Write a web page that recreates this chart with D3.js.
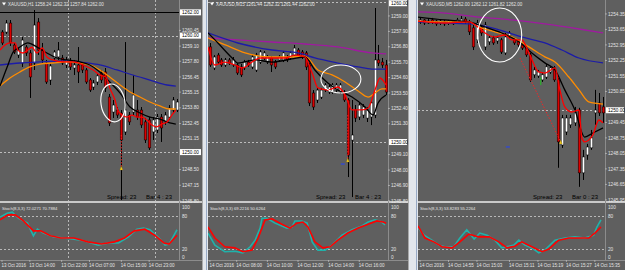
<!DOCTYPE html>
<html><head><meta charset="utf-8">
<script src="https://cdn.jsdelivr.net/npm/d3@7/dist/d3.min.js"></script>
<style>html,body{margin:0;padding:0;background:#5f5f5f;overflow:hidden}</style>
</head><body>
<svg id="c" width="625" height="270"></svg>
<script>
// ---------------- DATA ----------------
const P1_TITLE = "XAUUSD,H1  1258.24 1262.32 1257.84 1262.00";
const P2_TITLE = "XAUUSD,M15  1261.44 1262.32 1261.44 1262.00";
const P3_TITLE = "XAUUSD,M5  1262.00 1262.12 1261.82 1262.00";
const P1_STOCH_TITLE = "Stoch(8,3,3) 72.0271 70.7884";
const P2_STOCH_TITLE = "Stoch(8,3,3) 69.2216 50.6264";
const P3_STOCH_TITLE = "Stoch(8,3,3) 53.8283 55.2264";
const P1_INFO = ["Spread: 23", "Bar 4 : 23"];
const P2_INFO = ["Spread: 23", "Bar 4 : 23"];
const P3_INFO = ["Spread: 23", "Bar 0 : 23"];

const P1_OPEN  = [1260.31,1260.31,1261.08,1259.19,1258.34,1257.65,1259.02,1258.51,1257.65,1261.17,1258.76,1257.65,1256.19,1258.08,1258.17,1258.08,1257.48,1257.74,1257.22,1257.48,1257.48,1257.05,1256.19,1255.59,1256.02,1256.79,1256.88,1254.73,1253.44,1253.61,1253.35,1251.73,1253.18,1253.44,1253.61,1253.61,1252.59,1252.76,1251.73,1251.90,1253.01,1252.59,1253.01,1253.61,1253.61];
const P1_HIGH  = [1260.48,1261.34,1261.34,1259.37,1258.94,1259.88,1259.19,1258.76,1262.20,1261.51,1259.37,1257.91,1257.65,1258.76,1259.45,1258.34,1258.17,1258.08,1257.91,1259.02,1257.74,1257.22,1256.36,1256.19,1256.79,1257.05,1257.22,1254.99,1254.47,1253.87,1253.61,1259.45,1253.44,1256.62,1254.47,1253.87,1252.93,1253.01,1253.01,1253.27,1253.27,1253.44,1254.04,1254.73,1254.56];
const P1_LOW   = [1259.19,1260.14,1259.11,1258.42,1258.08,1257.31,1258.25,1254.65,1257.05,1258.34,1257.65,1255.85,1255.76,1257.74,1257.91,1257.48,1257.22,1257.05,1256.62,1255.93,1256.79,1255.85,1255.16,1255.33,1255.76,1255.93,1255.16,1252.24,1252.93,1252.93,1245.89,1251.47,1252.33,1253.18,1252.76,1252.07,1250.78,1250.18,1251.04,1251.64,1250.87,1252.33,1252.76,1253.35,1253.44];
const P1_CLOSE = [1259.37,1261.08,1259.37,1258.59,1258.76,1259.62,1258.51,1256.45,1260.91,1258.76,1257.91,1256.02,1257.39,1258.59,1258.76,1257.65,1257.91,1257.31,1257.48,1256.88,1257.05,1256.02,1255.33,1255.93,1256.54,1256.19,1255.50,1252.50,1254.04,1253.18,1251.04,1253.61,1252.59,1254.90,1253.01,1252.33,1251.04,1250.36,1252.76,1253.01,1252.07,1253.18,1253.78,1254.47,1254.30];

const P2_OPEN  = [1256.79,1255.29,1256.21,1255.86,1255.50,1255.86,1255.50,1255.50,1255.36,1255.29,1255.71,1255.36,1255.14,1255.71,1256.00,1255.71,1256.00,1255.71,1255.86,1255.86,1256.07,1256.00,1256.21,1256.57,1256.43,1256.36,1255.50,1253.50,1253.00,1253.21,1253.71,1253.57,1253.57,1253.71,1253.57,1253.57,1253.00,1250.14,1252.29,1251.79,1251.93,1251.71,1251.79,1251.93,1255.86,1255.71,1255.50];
const P2_HIGH  = [1257.07,1256.21,1256.36,1256.00,1256.00,1256.00,1256.07,1255.64,1255.57,1255.86,1255.86,1256.21,1256.36,1256.57,1256.50,1256.21,1256.14,1255.86,1256.21,1256.50,1256.21,1256.50,1256.93,1256.71,1256.57,1256.50,1255.64,1253.71,1253.86,1253.86,1254.21,1254.07,1254.21,1254.21,1254.21,1253.71,1253.14,1253.00,1252.64,1252.86,1252.71,1252.50,1253.00,1259.57,1256.93,1256.00,1255.86];
const P2_LOW   = [1255.36,1255.14,1255.57,1255.36,1255.36,1255.50,1255.36,1254.79,1254.64,1255.14,1255.36,1255.21,1255.00,1255.57,1255.86,1255.57,1255.00,1255.21,1255.71,1255.71,1255.71,1255.86,1256.07,1256.07,1255.93,1255.14,1252.57,1252.29,1252.79,1253.07,1253.57,1253.43,1253.43,1253.57,1253.43,1252.86,1247.50,1246.07,1251.43,1251.57,1251.71,1251.43,1251.21,1251.71,1255.43,1255.29,1253.36];
const P2_CLOSE = [1255.50,1256.07,1255.71,1255.50,1255.86,1255.64,1255.86,1254.93,1254.79,1255.71,1255.50,1256.07,1256.21,1256.43,1256.36,1256.07,1255.50,1255.36,1256.07,1256.36,1255.86,1256.36,1256.71,1256.21,1256.07,1255.36,1252.79,1252.50,1253.71,1253.71,1254.07,1253.93,1254.07,1254.07,1254.07,1253.00,1249.07,1250.50,1251.71,1252.64,1252.50,1252.29,1252.79,1255.86,1255.64,1255.50,1253.57];

const P3_OPEN  = [1253.99,1254.08,1253.94,1254.08,1254.03,1253.94,1253.99,1253.94,1254.03,1253.94,1253.99,1254.12,1253.99,1253.72,1253.18,1253.76,1252.86,1253.09,1253.27,1253.13,1253.18,1252.59,1253.36,1253.18,1253.09,1252.95,1252.81,1252.50,1251.60,1251.55,1251.37,1251.50,1251.73,1251.91,1251.37,1248.43,1249.02,1249.34,1249.43,1250.01,1247.17,1247.98,1248.30,1249.88,1250.33,1250.15];
const P3_HIGH  = [1254.17,1254.12,1254.12,1254.17,1254.08,1254.12,1254.08,1254.08,1254.08,1254.17,1254.26,1254.21,1254.08,1253.85,1254.08,1253.85,1253.99,1253.36,1253.36,1253.36,1253.27,1253.49,1253.58,1253.27,1253.18,1253.04,1252.90,1252.59,1251.96,1251.82,1251.68,1252.09,1252.00,1252.00,1251.46,1249.79,1249.79,1249.79,1250.15,1250.11,1248.21,1248.48,1249.11,1250.92,1250.78,1250.60];
const P3_LOW   = [1253.90,1253.85,1253.90,1253.90,1253.81,1253.85,1253.81,1253.85,1253.85,1253.90,1253.94,1253.90,1253.40,1252.72,1253.04,1253.36,1252.72,1252.95,1252.95,1253.00,1252.54,1252.50,1253.27,1252.95,1252.86,1252.72,1252.41,1251.28,1251.46,1251.46,1251.28,1251.41,1251.64,1251.28,1247.40,1248.30,1248.88,1249.20,1249.29,1246.54,1246.85,1247.76,1248.21,1249.34,1249.74,1249.43];
const P3_CLOSE = [1254.08,1253.94,1254.03,1253.99,1253.90,1254.03,1253.90,1254.03,1253.90,1254.08,1254.12,1253.99,1253.54,1252.86,1253.94,1253.49,1253.85,1253.27,1253.04,1253.27,1252.63,1253.31,1253.49,1253.04,1252.95,1252.81,1252.50,1251.37,1251.82,1251.73,1251.60,1251.96,1251.91,1251.37,1248.57,1249.65,1249.65,1249.65,1249.88,1247.17,1247.89,1248.34,1248.75,1250.01,1249.88,1249.88];

// moving averages: [bar index, price]
const P1_MA_RED = [[-0.5,1258.76],[0.76,1259.19],[2,1259.37],[3.3,1259.37],[4,1258.76],[5.3,1258.51],[6.5,1258.76],[7.5,1259.02],[8.8,1258.51],[10.1,1258.94],[11.3,1258.16],[12.8,1257.91],[15.3,1257.74],[17.8,1257.74],[20.4,1257.48],[22.9,1257.05],[24.6,1256.62],[26.1,1256.45],[27.1,1255.50],[28.4,1254.47],[29.1,1253.61],[30.2,1253.18],[31.4,1253.01],[32.7,1253.18],[33.9,1253.01],[35.2,1253.01],[36.4,1252.76],[37.7,1252.33],[38.9,1252.16],[40.2,1252.41],[41.5,1252.59],[42.7,1253.18],[43.7,1253.61]];
const P1_MA_BLACK = [[-0.5,1255.67],[1.3,1257.30],[2.8,1258.59],[4.5,1259.02],[6.5,1259.37],[8.8,1259.02],[11.3,1258.51],[13.8,1258.08],[16.3,1257.91],[19.6,1257.74],[22.1,1257.48],[24.6,1256.88],[27.1,1256.02],[29.7,1255.07],[32.2,1253.87],[34.7,1253.36],[37.2,1253.01],[39.7,1252.84],[42.2,1252.50],[43.7,1252.41]];
const P1_MA_ORANGE = [[-0.5,1255.67],[2,1256.36],[4.5,1256.88],[7,1257.31],[9.55,1257.56],[12.8,1257.65],[16.3,1257.74],[19.6,1257.65],[22.1,1257.48],[24.6,1257.05],[27.1,1256.45],[29.7,1255.76],[32.2,1255.16],[34.7,1254.73],[37.2,1254.30],[39.7,1253.96],[42.2,1253.70],[43.7,1253.70]];
const P1_MA_BLUE = [[-0.5,1257.48],[4.5,1257.65],[9.55,1257.74],[16.3,1257.82],[21.4,1257.65],[24.6,1257.48],[28.9,1257.05],[32.9,1256.62],[37.2,1256.19],[41.5,1255.76],[43.7,1255.67]];

const P2_MA_PURPLE = [[-0.5,1257.43],[7.3,1257.29],[16.2,1257.14],[24.8,1257.00],[33.4,1256.79],[42.3,1256.36],[46,1256.29]];
const P2_MA_BLUE = [[-0.5,1257.79],[7.3,1257.07],[16.2,1256.57],[23,1256.36],[27.4,1256.00],[33.4,1255.64],[38.7,1255.36],[42.3,1255.21],[46,1255.21]];
const P2_MA_ORANGE = [[-0.5,1257.43],[4,1256.93],[9.2,1256.36],[16.2,1256.07],[21.4,1256.07],[24.8,1256.14],[28.2,1255.14],[31.9,1254.79],[35.3,1254.29],[38.7,1253.64],[41.3,1253.21],[43.1,1253.50],[44.9,1253.79],[46,1253.79]];
const P2_MA_BLACK = [[-0.5,1257.79],[2.1,1257.07],[5.8,1256.00],[7.3,1255.64],[11.8,1255.86],[16.2,1255.71],[21.4,1255.93],[24.8,1256.07],[27.4,1255.14],[30.8,1254.21],[33.4,1253.71],[37.1,1253.21],[40.5,1252.50],[42.6,1251.93],[43.9,1252.79],[46,1253.36]];
const P2_MA_RED = [[-0.5,1256.79],[1.3,1255.50],[3.9,1255.71],[6.5,1255.50],[8.6,1255.29],[11,1255.71],[13.1,1256.00],[16.2,1256.00],[19.6,1256.00],[22.2,1256.21],[24.8,1256.07],[26.7,1254.93],[28.2,1253.86],[30.8,1253.71],[33.4,1253.93],[35.3,1253.36],[37.1,1252.29],[39.7,1252.29],[41.3,1252.43],[43.1,1253.71],[44.4,1254.57],[46,1254.07]];

const P3_MA_PURPLE = [[-0.5,1254.44],[6.1,1254.39],[14.5,1254.21],[22.6,1254.08],[30.7,1253.90],[39.1,1253.67],[45,1253.49]];
const P3_MA_BLUE = [[-0.5,1253.99],[6.1,1253.94],[12.8,1253.90],[19.4,1253.63],[25,1253.31],[30.7,1253.04],[34.9,1252.72],[39.1,1252.36],[45,1252.14]];
const P3_MA_ORANGE = [[-0.5,1254.03],[6.1,1253.99],[12,1253.99],[14.5,1253.76],[18.4,1253.54],[22.6,1253.31],[26.8,1252.86],[30.7,1252.41],[33.2,1252.18],[36.6,1251.50],[39.1,1250.92],[41.5,1250.38],[45,1250.28]];
const P3_MA_BLACK = [[-0.5,1254.21],[6.1,1254.08],[12,1253.99],[16,1253.76],[20.1,1253.49],[24.3,1253.09],[27.5,1252.59],[30.7,1252.14],[33.2,1251.82],[35.6,1250.92],[38.1,1250.01],[40.5,1248.79],[42.5,1248.97],[45,1249.20]];
const P3_MA_RED = [[-0.5,1254.03],[6.1,1253.94],[12,1253.99],[14.5,1253.72],[16,1253.49],[18.4,1253.31],[20.9,1253.40],[22.6,1253.18],[25,1253.18],[27,1252.50],[29.2,1251.73],[30.7,1251.68],[33.2,1251.91],[34.4,1250.92],[35.6,1250.15],[37.3,1249.92],[39.1,1250.01],[39.8,1248.75],[40.5,1248.57],[41.5,1248.66],[42.5,1248.88],[44,1249.56],[45,1249.43]];

// stochastic %K (teal) and %D (red): [bar index, value]
const P1_STOCH_K = [[-0.5,78],[1.3,85],[2.6,87],[4.1,76],[6.4,67],[7.9,44],[8.9,56],[10.4,49],[13,42],[15.5,40],[18.1,38],[20.6,35],[24.2,27],[26.7,31],[29.3,31],[31.8,42],[33.9,56],[35.6,58],[37.2,55],[39.5,40],[41,27],[42,29],[44,55]];
const P1_STOCH_D = [[-0.5,73],[1.5,82],[3.3,82],[5.4,71],[7.9,53],[9.7,53],[12.2,44],[14.8,40],[18.1,40],[21.6,33],[25,29],[28.3,33],[30.8,40],[33.3,53],[35.9,56],[38.4,45],[40.7,31],[42,29],[44,45]];
const P2_STOCH_K = [[-0.5,49],[1.3,27],[3.9,15],[6.5,16],[8.6,13],[10.5,24],[11.8,36],[13.1,58],[13.6,76],[14.9,76],[17,67],[20.1,58],[21.4,60],[22.2,71],[24,71],[25.4,67],[26.7,33],[28.2,18],[30.1,18],[31.9,27],[34.5,45],[37.1,55],[39.7,62],[41.3,69],[43.1,73],[44.9,69],[45.7,64]];
const P2_STOCH_D = [[-0.5,60],[1.3,40],[3.9,24],[6.5,22],[8.6,15],[11,18],[12.6,40],[14.4,73],[16.2,75],[18.8,65],[20.9,58],[22.7,67],[24.3,69],[25.6,60],[27.4,33],[29.5,22],[31.4,24],[33.4,36],[36,49],[38.7,58],[41.3,65],[43.6,71],[45.2,69],[46,67]];
const P3_STOCH_K = [[-0.5,58],[1,45],[2.9,36],[4.7,27],[6.1,24],[8.3,24],[9.8,40],[11.5,55],[13.3,38],[14.7,49],[16.5,45],[18.4,36],[20.1,22],[21.9,25],[23.1,27],[24.3,36],[25.8,27],[27.5,22],[29.2,13],[30.7,18],[33.2,36],[35.6,40],[38.1,42],[40.5,40],[42.7,45],[43.5,60],[44.5,73]];
const P3_STOCH_D = [[-0.5,62],[1.2,40],[3.4,33],[5.4,24],[7.9,22],[9.8,33],[12,47],[14.5,42],[17,42],[19.4,33],[21.4,22],[23.3,25],[25,33],[27.5,24],[30,15],[31.7,20],[34.1,36],[36.6,40],[39.1,40],[41.5,40],[43,49],[44.5,60]];

// price axis tick labels (the ones visible)
const P1_TICKS = [1260.45,1259.10,1257.80,1256.45,1255.15,1253.80,1252.45,1251.15,1248.50,1247.15,1245.80];
const P2_TICKS = [1259.00,1257.90,1256.80,1255.70,1254.60,1253.50,1252.40,1251.30,1249.10,1248.00,1246.90,1245.80];
const P3_TICKS = [1254.35,1253.65,1252.95,1252.25,1251.55,1250.85,1249.45,1248.75,1248.05,1247.35,1246.65,1245.95];
const P1_BOXES = [1262.00,1260.00,1250.00];
const P2_BOXES = [1260.00,1250.00];
const P3_BOXES = [1250.00];
const P1_LEVELS = [1260.00,1250.00];
const P2_LEVELS = [1260.00,1250.00];
const P3_LEVELS = [1250.00];
const P1_BID = 1262.00;
const P1_SEPARATORS = [16.5, 38.5];
const STOCH_LEVELS = [80, 20];
const STOCH_LABELS = [100, 80, 20, 0];

// time axis
const P1_DATE_IDX = [0,7,15,22,30,37];
const P1_DATES = ["13 Oct 2016","13 Oct 14:00","13 Oct 22:00","14 Oct 07:00","14 Oct 15:00","14 Oct 23:00"];
const P2_DATE_IDX = [0,7,15,23,31,39];
const P2_DATES = ["14 Oct 2016","14 Oct 08:00","14 Oct 10:00","14 Oct 12:00","14 Oct 14:00","14 Oct 16:00"];
const P3_DATE_IDX = [0,7,14,22,29,36,43];
const P3_DATES = ["14 Oct 2016","14 Oct 14:55","14 Oct 15:03","14 Oct 15:11","14 Oct 15:19","14 Oct 15:27","14 Oct 15:35"];

// annotations
const P1_CIRCLE = [27.9, 1254.22];
const P2_CIRCLE = [34.2, 1254.50];
const P3_CIRCLE = [19.6, 1253.40];
const P1_TRADE = [30, 1251.47, 30, 1248.63];
const P2_TRADE = [36, 1251.93, 36, 1248.71];
const P3_TRADE = [24.6, 1252.36, 34.6, 1248.57];
const P2_DASH = [34.7, 1248.43];
const P3_DASH = [21.6, 1248.34];
const P3_GREEN = [29.7, 1251.50, 1251.14];

// ---------------- DRAW ----------------
const svg = d3.select('#c');
const FONT = "'Liberation Sans', Arial, sans-serif";
const TXT = '#e4e4e4';
svg.append('rect').attr('width',625).attr('height',270).attr('fill','#5f5f5f');
const defs = svg.append('defs');
const MAIN_TOP = 0, MAIN_BOT = 201, ST_TOP = 203, ST_BOT = 260;

function drawPanel(c) {
  const L = c.box;
  const n = c.open.length;
  const x = d3.scaleLinear().domain([-0.5, n - 0.5]).range([L.left, L.right]);
  const y = d3.scaleLinear().domain(c.view).range([MAIN_BOT, MAIN_TOP]);
  const ys = d3.scaleLinear().domain([0, 100]).range([ST_BOT, 205]);
  const g = svg.append('g');
  defs.append('clipPath').attr('id','m'+c.id).append('rect')
    .attr('x',L.left).attr('y',MAIN_TOP).attr('width',L.right-L.left).attr('height',MAIN_BOT-MAIN_TOP);
  defs.append('clipPath').attr('id','s'+c.id).append('rect')
    .attr('x',L.left).attr('y',ST_TOP).attr('width',L.right-L.left).attr('height',ST_BOT-ST_TOP);

  (c.separators||[]).forEach(i => g.append('line')
    .attr('x1',Math.round(x(i))+0.5).attr('x2',Math.round(x(i))+0.5).attr('y1',0).attr('y2',ST_BOT)
    .attr('stroke','#cfcfcf').attr('stroke-width',0.8).attr('stroke-dasharray','2,2'));

  const gm = g.append('g').attr('clip-path',`url(#m${c.id})`);
  const gs = g.append('g').attr('clip-path',`url(#s${c.id})`);

  c.levels.forEach(v => gm.append('line')
    .attr('x1',L.left).attr('x2',L.right).attr('y1',Math.round(y(v))+0.5).attr('y2',Math.round(y(v))+0.5)
    .attr('stroke','#d4d4d4').attr('stroke-width',0.8).attr('stroke-dasharray','2,2'));
  if (c.bid != null) gm.append('line')
    .attr('x1',L.left).attr('x2',L.right).attr('y1',Math.round(y(c.bid))+0.5).attr('y2',Math.round(y(c.bid))+0.5)
    .attr('stroke','#000').attr('stroke-width',1);

  const idx = d3.range(n);
  gm.append('g').selectAll('line').data(idx).join('line')
    .attr('x1',i=>Math.round(x(i))+0.5).attr('x2',i=>Math.round(x(i))+0.5)
    .attr('y1',i=>y(c.high[i])).attr('y2',i=>y(c.low[i]))
    .attr('stroke','#000').attr('stroke-width',1);
  gm.append('g').selectAll('rect').data(idx).join('rect')
    .attr('x',i=>Math.round(x(i))-0.8).attr('width',2.6)
    .attr('y',i=>y(Math.max(c.open[i],c.close[i])))
    .attr('height',i=>Math.max(1, Math.abs(y(c.open[i])-y(c.close[i]))))
    .attr('fill',i=>c.close[i]>=c.open[i] ? '#ffffff' : '#dc0000')
    .attr('stroke','#000').attr('stroke-width',0.5);

  const ln = d3.line().x(d=>x(d[0])).y(d=>y(d[1])).curve(d3.curveMonotoneX);
  c.mas.forEach(m => gm.append('path').attr('d',ln(m.data)).attr('fill','none')
    .attr('stroke',m.color).attr('stroke-width',1.3));

  if (c.green) gm.append('line').attr('x1',x(c.green[0])).attr('x2',x(c.green[0]))
    .attr('y1',y(c.green[1])).attr('y2',y(c.green[2])).attr('stroke','#20c020').attr('stroke-width',1);

  const t = c.trade;
  gm.append('line').attr('x1',x(t[0])).attr('y1',y(t[1])).attr('x2',x(t[2])).attr('y2',y(t[3]))
    .attr('stroke','#ff2020').attr('stroke-width',0.9).attr('stroke-dasharray','1.5,1.5');
  gm.append('path').attr('d',`M${x(t[2])-1.5},${y(t[3])+2}L${x(t[2])+1.5},${y(t[3])+2}L${x(t[2])},${y(t[3])-2}Z`)
    .attr('fill','#f4d020').attr('stroke','#806000').attr('stroke-width',0.3);
  if (c.dash) gm.append('line').attr('x1',x(c.dash[0])-2).attr('x2',x(c.dash[0])+2)
    .attr('y1',y(c.dash[1])).attr('y2',y(c.dash[1])).attr('stroke','#2040ff').attr('stroke-width',1);

  gm.append('ellipse').attr('cx',x(c.circle[0])).attr('cy',y(c.circle[1]))
    .attr('rx',c.rx).attr('ry',c.ry).attr('fill','none').attr('stroke','#fff').attr('stroke-width',1.1)
    .attr('transform',`rotate(${c.rot||0},${x(c.circle[0])},${y(c.circle[1])})`);

  STOCH_LEVELS.forEach(v => gs.append('line')
    .attr('x1',L.left).attr('x2',L.right).attr('y1',Math.round(ys(v))+0.5).attr('y2',Math.round(ys(v))+0.5)
    .attr('stroke','#cfcfcf').attr('stroke-width',0.8).attr('stroke-dasharray','2,2'));
  const sl = d3.line().x(d=>x(d[0])).y(d=>ys(d[1]));
  gs.append('path').attr('d',sl(c.stochK)).attr('fill','none').attr('stroke','#20b2aa').attr('stroke-width',1.6);
  gs.append('path').attr('d',sl(c.stochD)).attr('fill','none').attr('stroke','#ff0000').attr('stroke-width',1.6);

  g.append('rect').attr('x',L.left).attr('y',MAIN_BOT).attr('width',L.edge-L.left).attr('height',2).attr('fill','#c9c9c9');
  g.append('line').attr('x1',L.left).attr('x2',L.edge).attr('y1',ST_BOT+0.5).attr('y2',ST_BOT+0.5).attr('stroke','#8c8c8c');
  g.append('line').attr('x1',L.right+0.5).attr('x2',L.right+0.5).attr('y1',0).attr('y2',ST_BOT).attr('stroke','#8c8c8c');

  const fmt = d3.format('.2f');
  c.ticks.forEach(v => {
    const yy = y(v); if (yy < 2 || yy > 203) return;
    g.append('line').attr('x1',L.right).attr('x2',L.right+2).attr('y1',yy).attr('y2',yy).attr('stroke','#d0d0d0').attr('stroke-width',0.6);
    g.append('text').attr('x',L.right+3).attr('y',yy).attr('dy','0.35em').text(fmt(v))
      .attr('font-size',4.7).attr('font-family',FONT).attr('fill',TXT);
  });
  c.boxes.forEach(v => {
    const yy = Math.max(3.2, y(v));
    g.append('rect').attr('x',L.right+1).attr('y',yy-3).attr('width',L.edge-L.right-2).attr('height',6).attr('fill','#fff');
    g.append('text').attr('x',L.right+3).attr('y',yy).attr('dy','0.35em').text(fmt(v))
      .attr('font-size',4.7).attr('font-family',FONT).attr('fill','#000');
  });
  STOCH_LABELS.forEach(v => {
    const yy = v===100 ? ys(v)+2 : v===0 ? ys(v)-3 : ys(v);
    g.append('text').attr('x',L.right+3).attr('y',yy).attr('dy','0.35em').text(v)
      .attr('font-size',4.7).attr('font-family',FONT).attr('fill',TXT);
  });
  c.dateIdx.forEach((i,k) => {
    g.append('line').attr('x1',x(i)).attr('x2',x(i)).attr('y1',ST_BOT).attr('y2',ST_BOT+2).attr('stroke','#d0d0d0').attr('stroke-width',0.6);
    g.append('text').attr('x',x(i)-0.5).attr('y',267).text(c.dates[k])
      .attr('font-size',4.5).attr('font-family',FONT).attr('fill',TXT);
  });

  g.append('path').attr('d',`M${L.left+2},${2.5}L${L.left+6},${2.5}L${L.left+4},${5.5}Z`).attr('fill','#fff');
  g.append('text').attr('x',L.left+8).attr('y',6).text(c.title)
    .attr('font-size',4.5).attr('font-family',FONT).attr('fill',TXT);
  g.append('text').attr('x',L.left+2).attr('y',210).text(c.stochTitle)
    .attr('font-size',4.2).attr('font-family',FONT).attr('fill',TXT);
  g.append('text').attr('x',L.right-72).attr('y',199).text(c.info[0])
    .attr('font-size',6).attr('font-family',FONT).attr('fill','#000');
  g.append('text').attr('x',L.right-33).attr('y',199).text(c.info[1])
    .attr('font-size',6).attr('font-family',FONT).attr('fill','#000');
}

drawPanel({id:1, box:{left:0,right:179,edge:202}, view:[1245.80,1263.06],
  open:P1_OPEN, high:P1_HIGH, low:P1_LOW, close:P1_CLOSE,
  mas:[{data:P1_MA_BLUE,color:'#1c1ca8'},{data:P1_MA_ORANGE,color:'#ff8c00'},{data:P1_MA_BLACK,color:'#000'},{data:P1_MA_RED,color:'#ff0000'}],
  stochK:P1_STOCH_K, stochD:P1_STOCH_D, ticks:P1_TICKS, boxes:P1_BOXES, levels:P1_LEVELS, bid:P1_BID,
  separators:P1_SEPARATORS, dateIdx:P1_DATE_IDX, dates:P1_DATES, title:P1_TITLE, stochTitle:P1_STOCH_TITLE,
  info:P1_INFO, circle:P1_CIRCLE, rx:12, ry:19, rot:-8, trade:P1_TRADE});

drawPanel({id:2, box:{left:208,right:388,edge:408}, view:[1245.79,1260.14],
  open:P2_OPEN, high:P2_HIGH, low:P2_LOW, close:P2_CLOSE,
  mas:[{data:P2_MA_PURPLE,color:'#a01aa0'},{data:P2_MA_BLUE,color:'#1c1ca8'},{data:P2_MA_ORANGE,color:'#ff8c00'},{data:P2_MA_BLACK,color:'#000'},{data:P2_MA_RED,color:'#ff0000'}],
  stochK:P2_STOCH_K, stochD:P2_STOCH_D, ticks:P2_TICKS, boxes:P2_BOXES, levels:P2_LEVELS,
  dateIdx:P2_DATE_IDX, dates:P2_DATES, title:P2_TITLE, stochTitle:P2_STOCH_TITLE,
  info:P2_INFO, circle:P2_CIRCLE, rx:20, ry:14, trade:P2_TRADE, dash:P2_DASH});

drawPanel({id:3, box:{left:418,right:605,edge:625}, view:[1245.90,1254.98],
  open:P3_OPEN, high:P3_HIGH, low:P3_LOW, close:P3_CLOSE,
  mas:[{data:P3_MA_PURPLE,color:'#a01aa0'},{data:P3_MA_BLUE,color:'#1c1ca8'},{data:P3_MA_ORANGE,color:'#ff8c00'},{data:P3_MA_BLACK,color:'#000'},{data:P3_MA_RED,color:'#ff0000'}],
  stochK:P3_STOCH_K, stochD:P3_STOCH_D, ticks:P3_TICKS, boxes:P3_BOXES, levels:P3_LEVELS,
  dateIdx:P3_DATE_IDX, dates:P3_DATES, title:P3_TITLE, stochTitle:P3_STOCH_TITLE,
  info:P3_INFO, circle:P3_CIRCLE, rx:22, ry:27, trade:P3_TRADE, dash:P3_DASH, green:P3_GREEN});

[[202,208],[408,418]].forEach(([a,b]) => {
  svg.append('rect').attr('x',a).attr('y',0).attr('width',b-a).attr('height',270).attr('fill','#e2e6ec');
  svg.append('line').attr('x1',a+0.5).attr('x2',a+0.5).attr('y1',0).attr('y2',270).attr('stroke','#a9a9a9');
  svg.append('line').attr('x1',b-1.5).attr('x2',b-1.5).attr('y1',0).attr('y2',270).attr('stroke','#97a9c4');
});
</script>
</body></html>
